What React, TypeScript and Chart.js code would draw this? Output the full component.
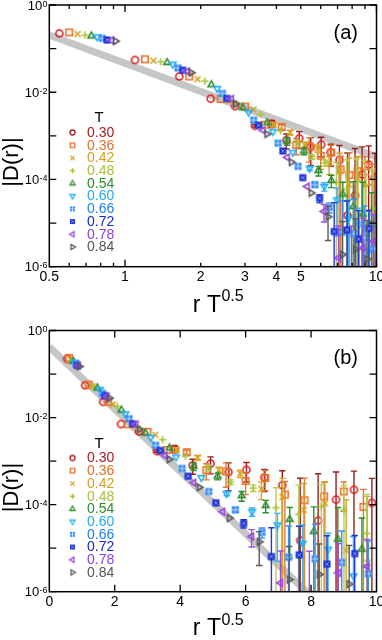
import React, { useEffect, useRef } from 'react';
import { Chart, registerables } from 'chart.js';

Chart.register(...registerables);

// ---------------- data ----------------
const T_VALUES = [0.30, 0.36, 0.42, 0.48, 0.54, 0.60, 0.66, 0.72, 0.78, 0.84];
const T_LABELS = ['0.30', '0.36', '0.42', '0.48', '0.54', '0.60', '0.66', '0.72', '0.78', '0.84'];
const R_VALUES = [1, 2, 3, 4, 5, 6, 7, 8, 9, 10, 11, 12, 13, 14, 15, 16, 17, 18];

const D_030 = [0.224, 0.055, 0.023, 0.0071, 0.0048, 0.0017, 0.0019, 0.0008, 0.00088, 0.00056, 0.00063, 0.00042, 0.00028, 1.5e-5, 4.3e-5, 1.3e-4, 2.2e-4, 1.1e-4];
const E_030 = [0, 0, 0, 0, 0, 0.0001, 0.00035, 0.0003, 0.00037, 0.00035, 0.0003, 0.00022, 0.00032, 0.00039, 0.00047, 0.00043, 0.00037, 0.00029];
const D_036 = [0.235, 0.057, 0.023, 0.0070, 0.0047, 0.0018, 0.0016, 6.2e-4, 5.8e-4, 3.5e-4, 4.1e-4, 1.7e-4, 1.26e-4, 1.55e-4, 2.0e-4, 8.9e-5];
const E_036 = [0, 0, 0, 0, 0, 0, 0.0002, 0.00025, 0.00033, 0.00018, 0.0002, 0.00017, 0.00028, 0.00017, 0.00013, 0.000135];
const D_042 = [0.216, 0.053, 0.020, 0.0062, 0.0040, 0.0018, 0.0012, 6.2e-4, 5.2e-4, 2.3e-4, 1.5e-4, 7.6e-5, 1.07e-4, 9e-6, 4.6e-6];
const E_042 = [0, 0, 0, 0, 0, 0.0002, 0.00015, 0.0001, 0.0001, 0.0001, 0.00025, 0.00023, 0.00023, 0.00012, 0.00015];
const D_048 = [0.205, 0.050, 0.018, 0.0056, 0.0031, 0.0013, 7e-4, 3.3e-4, 2.4e-4, 8.5e-5, 6e-5, 9e-5, 7.6e-5, 2.2e-5];
const E_048 = [0, 0, 0, 0, 0, 0, 0.0001, 0.00004, 0.00004, 0.00016, 0.00022, 0.0002, 0.0002, 0.00015];
const D_054 = [0.195, 0.048, 0.0148, 0.0044, 0.0020, 7.6e-4, 4.5e-4, 1.6e-4, 9.5e-5, 4.6e-5, 2.4e-5, 1.6e-5, 9.5e-6];
const E_054 = [0, 0, 0, 0, 0, 0.00015, 0.00008, 0.00004, 0.00003, 0.00004, 0.000065, 0.00007, 0.00004];
const D_060 = [0.186, 0.044, 0.0122, 0.0035, 0.00125, 4.2e-4, 1.8e-4, 6.9e-5, 3.4e-5, 1.3e-5, 9.5e-6, 2.3e-6];
const E_060 = [0, 0, 0, 0, 0, 0, 0.00002, 0.000015, 0.000029, 0.000021, 0.0000125, 0.000016];
const D_066 = [0.172, 0.036, 0.0094, 0.0023, 6.8e-4, 2.0e-4, 7.6e-5, 2.3e-5, 6.2e-6, 5.7e-6, 4.7e-6, 2.6e-6];
const E_066 = [0, 0, 0, 0, 0, 0, 0.00001, 0.000006, 0.000026, 0.00003, 0.00002, 0.000012];
const D_072 = [0.158, 0.032, 0.0072, 0.00175, 4.5e-4, 1.1e-4, 3.7e-5, 6.4e-6, 7e-6, 4.3e-6, 7.5e-6];
const E_072 = [0, 0, 0, 0, 0, 0, 0.000008, 0.000023, 0.000025, 0.000015, 0.000012];
const D_078 = [0.155, 0.030, 0.0070, 0.00135, 3.2e-4, 6.9e-5, 1.86e-5, 1.6e-6, 5e-7, 2.7e-6, 3.8e-6];
const E_078 = [0, 0, 0, 0, 0, 0, 0.000008, 0.000007, 0.000008, 0.00001, 0.000012];
const D_084 = [0.149, 0.028, 0.0054, 0.0011, 2.5e-4, 4.9e-5, 1.4e-5, 1.9e-6, 2.5e-6, 1.5e-6];
const E_084 = [0, 0, 0, 0, 0, 0, 0.00001, 0.000009, 0.00001, 0.00001];

const D_SERIES = [D_030, D_036, D_042, D_048, D_054, D_060, D_066, D_072, D_078, D_084];
const E_SERIES = [E_030, E_036, E_042, E_048, E_054, E_060, E_066, E_072, E_078, E_084];

// grey guide lines (power law in panel a, exponential in panel b)
const GUIDE_A_X = [0.5, 10];
const GUIDE_A_Y = [0.205, 3.3e-4];
const GUIDE_B_X = [0, 10];
const GUIDE_B_Y = [0.42, 2.95e-8];

// ticks
const Y_TICKS = [1, 1e-1, 1e-2, 1e-3, 1e-4, 1e-5, 1e-6];
const Y_LABEL_VALUES = [1, 1e-2, 1e-4, 1e-6];
const Y_LABEL_EXPS = ['0', '-2', '-4', '-6'];
const XA_MAJOR = [1, 10];
const XA_MINOR = [0.6, 0.7, 0.8, 0.9, 2, 3, 4, 5, 6, 7, 8, 9];
const XA_LABEL_VALUES = [0.5, 1, 2, 3, 4, 5, 10];
const XA_LABELS = ['0.5', '1', '2', '3', '4', '5', '10'];
const XB_MAJOR = [2, 4, 6, 8];
const XB_MINOR: number[] = [];
const XB_LABEL_VALUES = [0, 2, 4, 6, 8, 10];
const XB_LABELS = ['0', '2', '4', '6', '8', '10'];

// ---------------- styles ----------------
const MARKERS = ['circle', 'square', 'x', 'plus', 'triUp', 'triDown', 'sqGrid', 'sqX', 'triLeft', 'triRight'];
const MARKER_COLORS = ['#e01c1c', '#e8742a', '#d6a21c', '#a9c23a', '#2f8f2f', '#27b0f5', '#2f8cf5', '#1a2fd6', '#9c48e0', '#5a5a5a'];
const BAR_COLORS = ['#9a1f1f', '#dd7a35', '#d8a42a', '#b8cc58', '#2f8f2f', '#3ab4f5', '#3a8ef5', '#2038d8', '#9c50e0', '#5a5a5a'];
const TEXT_COLORS = ['#a51c1c', '#e0702a', '#d4a020', '#a8c040', '#2e8b2e', '#22aaf5', '#1e80f0', '#1428d0', '#9040e0', '#555555'];
const FONT = '"Liberation Sans", Arial, Helvetica, sans-serif';

function makeMarker(kind: string, color: string, r: number, lw: number): HTMLCanvasElement {
  const size = Math.ceil(r * 2 + 6);
  const c = document.createElement('canvas');
  c.width = size;
  c.height = size;
  const g = c.getContext('2d') as CanvasRenderingContext2D;
  const m = size / 2;
  g.strokeStyle = color;
  g.fillStyle = color;
  g.lineWidth = lw;
  const poly = (pts: number[][]) => {
    g.beginPath();
    pts.forEach(([x, y], i) => (i ? g.lineTo(m + x, m + y) : g.moveTo(m + x, m + y)));
    g.closePath();
    g.stroke();
  };
  const t = r * 1.15;
  switch (kind) {
    case 'circle':
      g.beginPath();
      g.arc(m, m, r, 0, Math.PI * 2);
      g.stroke();
      break;
    case 'square': {
      const h = r * 0.9;
      g.strokeRect(m - h, m - h, 2 * h, 2 * h);
      break;
    }
    case 'x': {
      const h = r * 0.85;
      g.beginPath();
      g.moveTo(m - h, m - h); g.lineTo(m + h, m + h);
      g.moveTo(m + h, m - h); g.lineTo(m - h, m + h);
      g.stroke();
      break;
    }
    case 'plus': {
      const h = r * 1.05;
      g.beginPath();
      g.moveTo(m - h, m); g.lineTo(m + h, m);
      g.moveTo(m, m - h); g.lineTo(m, m + h);
      g.stroke();
      break;
    }
    case 'triUp': poly([[0, -t], [0.87 * t, 0.5 * t], [-0.87 * t, 0.5 * t]]); break;
    case 'triDown': poly([[0, t], [0.87 * t, -0.5 * t], [-0.87 * t, -0.5 * t]]); break;
    case 'triLeft': poly([[-t, 0], [0.5 * t, 0.87 * t], [0.5 * t, -0.87 * t]]); break;
    case 'triRight': poly([[t, 0], [-0.5 * t, 0.87 * t], [-0.5 * t, -0.87 * t]]); break;
    case 'sqGrid': {
      const h = r * 0.98;
      g.fillRect(m - h, m - h, 2 * h, 2 * h);
      g.strokeStyle = 'rgba(255,255,255,0.8)';
      g.lineWidth = 0.8;
      g.beginPath();
      g.moveTo(m - h, m); g.lineTo(m + h, m);
      g.moveTo(m, m - h); g.lineTo(m, m + h);
      g.stroke();
      break;
    }
    case 'sqX': {
      const h = r * 0.98;
      g.fillRect(m - h, m - h, 2 * h, 2 * h);
      g.strokeStyle = 'rgba(200,210,255,0.75)';
      g.lineWidth = 0.8;
      const k = h * 0.55;
      g.beginPath();
      g.moveTo(m - k, m - k); g.lineTo(m + k, m + k);
      g.moveTo(m + k, m - k); g.lineTo(m - k, m + k);
      g.stroke();
      break;
    }
  }
  return c;
}

function drawDecor(chart: any, panel: string) {
  const { ctx, chartArea: a, scales } = chart;
  const xs = scales.x;
  const ys = scales.y;
  const isA = panel === 'a';
  ctx.save();
  ctx.strokeStyle = '#000';
  ctx.lineWidth = 1.3;
  ctx.beginPath();
  for (const v of Y_TICKS) {
    const py = ys.getPixelForValue(v);
    ctx.moveTo(a.left, py); ctx.lineTo(a.left + 7, py);
    ctx.moveTo(a.right, py); ctx.lineTo(a.right - 7, py);
  }
  const major = isA ? XA_MAJOR : XB_MAJOR;
  const minor = isA ? XA_MINOR : XB_MINOR;
  for (const v of major) {
    const px = xs.getPixelForValue(v);
    ctx.moveTo(px, a.bottom); ctx.lineTo(px, a.bottom - 7);
    ctx.moveTo(px, a.top); ctx.lineTo(px, a.top + 7);
  }
  for (const v of minor) {
    const px = xs.getPixelForValue(v);
    ctx.moveTo(px, a.bottom); ctx.lineTo(px, a.bottom - 4);
    ctx.moveTo(px, a.top); ctx.lineTo(px, a.top + 4);
  }
  ctx.stroke();
  ctx.lineWidth = 1.5;
  ctx.strokeRect(a.left, a.top, a.right - a.left, a.bottom - a.top);

  // y tick labels 10^n
  ctx.fillStyle = '#000';
  ctx.textBaseline = 'alphabetic';
  Y_LABEL_VALUES.forEach((v, i) => {
    const py = ys.getPixelForValue(v);
    const exp = Y_LABEL_EXPS[i];
    ctx.font = `9px ${FONT}`;
    const sw = ctx.measureText(exp).width;
    ctx.textAlign = 'right';
    ctx.fillText(exp, a.left - 1.8, py + 1.5);
    ctx.font = `13px ${FONT}`;
    ctx.fillText('10', a.left - 1.8 - sw - 0.3, py + 4.7);
  });

  // x tick labels
  ctx.font = `14px ${FONT}`;
  ctx.textAlign = 'center';
  const lv = isA ? XA_LABEL_VALUES : XB_LABEL_VALUES;
  const lt = isA ? XA_LABELS : XB_LABELS;
  lv.forEach((v, i) => {
    ctx.fillText(lt[i], xs.getPixelForValue(v), a.bottom + 14);
  });

  // x title: r T^0.5
  ctx.font = `23px ${FONT}`;
  const main = 'r T';
  const mw = ctx.measureText(main).width;
  ctx.font = `16px ${FONT}`;
  const sup = '0.5';
  const spw = ctx.measureText(sup).width;
  const x0 = 218 - (mw + spw) / 2;
  const base = a.bottom + (isA ? 45 : 43.5);
  ctx.textAlign = 'left';
  ctx.font = `23px ${FONT}`;
  ctx.fillText(main, x0, base);
  ctx.font = `16px ${FONT}`;
  ctx.fillText(sup, x0 + mw + 0.5, base - 10.5);

  // y title
  ctx.save();
  ctx.translate(12, a.top + 157);
  ctx.rotate(-Math.PI / 2);
  ctx.font = `22px ${FONT}`;
  ctx.textAlign = 'center';
  ctx.textBaseline = 'middle';
  ctx.fillText('|D(r)|', 0, 0);
  ctx.restore();

  // panel label
  ctx.font = `20px ${FONT}`;
  ctx.textAlign = 'center';
  ctx.textBaseline = 'alphabetic';
  ctx.fillText(isA ? '(a)' : '(b)', 345.8, a.top + 33.5);

  // legend
  ctx.font = `15px ${FONT}`;
  ctx.textBaseline = 'middle';
  ctx.textAlign = 'center';
  ctx.fillStyle = '#000';
  ctx.fillText('T', 99, a.top + 113);
  ctx.font = `14px ${FONT}`;
  ctx.textAlign = 'left';
  const legendMarkers = chart.$legendMarkers as HTMLCanvasElement[];
  T_LABELS.forEach((lab, i) => {
    const y = a.top + 127.5 + 12.72 * i;
    const mk = legendMarkers[i];
    ctx.drawImage(mk, 72.5 - mk.width / 2, y - mk.height / 2);
    ctx.fillStyle = TEXT_COLORS[i];
    ctx.fillText(lab, 87, y + 0.5);
  });
  ctx.restore();
}

const errorBarPlugin = {
  id: 'errBars',
  beforeDatasetDraw(chart: any, args: any) {
    const ds: any = chart.data.datasets[args.index];
    if (!ds.errs) return;
    const { ctx, chartArea: a } = chart;
    const xs = chart.scales.x;
    const ys = chart.scales.y;
    ctx.save();
    ctx.beginPath();
    ctx.rect(a.left, a.top, a.right - a.left, a.bottom - a.top);
    ctx.clip();
    ctx.strokeStyle = ds.barColor;
    ctx.lineWidth = 1.4;
    ds.data.forEach((p: any, i: number) => {
      const e = ds.errs[i];
      if (!e) return;
      const px = xs.getPixelForValue(p.x);
      const yTop = ys.getPixelForValue(p.y + e);
      const lowOk = p.y - e > 0;
      const yBot = lowOk ? ys.getPixelForValue(p.y - e) : a.bottom + 10;
      ctx.beginPath();
      ctx.moveTo(px, yTop); ctx.lineTo(px, yBot);
      ctx.moveTo(px - 3.2, yTop); ctx.lineTo(px + 3.2, yTop);
      if (lowOk) { ctx.moveTo(px - 3.2, yBot); ctx.lineTo(px + 3.2, yBot); }
      ctx.stroke();
    });
    ctx.restore();
  },
};

function buildConfig(panel: string): any {
  const isA = panel === 'a';
  const dataMarkers = MARKERS.map((k, i) =>
    makeMarker(k, MARKER_COLORS[i], k.startsWith('tri') ? 3.3 : k.startsWith('sq') ? 3.6 : 3.5, 1.6));
  const legendMarkers = MARKERS.map((k, i) =>
    makeMarker(k, i === 0 ? TEXT_COLORS[0] : MARKER_COLORS[i], k.startsWith('tri') ? 2.6 : 2.5, 1.3));
  const gx = isA ? GUIDE_A_X : GUIDE_B_X;
  const gy = isA ? GUIDE_A_Y : GUIDE_B_Y;
  const guide = {
    label: 'guide',
    data: gx.map((x, i) => ({ x, y: gy[i] })),
    showLine: true,
    borderColor: '#c6c6c6',
    borderWidth: 7,
    pointRadius: 0,
    clip: 0,
    order: 100,
  };
  const series = T_VALUES.map((t, k) => {
    const s = Math.sqrt(t);
    return {
      label: T_LABELS[k],
      data: D_SERIES[k].map((y, i) => ({ x: R_VALUES[i] * s, y })),
      errs: E_SERIES[k],
      barColor: BAR_COLORS[k],
      pointStyle: dataMarkers[k],
      pointRadius: 3,
      showLine: false,
      clip: 0,
      order: 50 - k,
    };
  });
  const decor = {
    id: 'decor' + panel,
    afterDraw(chart: any) {
      chart.$legendMarkers = legendMarkers;
      drawDecor(chart, panel);
    },
  };
  return {
    type: 'scatter',
    data: { datasets: [guide, ...series] },
    options: {
      animation: false,
      responsive: false,
      devicePixelRatio: 1,
      events: [],
      layout: {
        padding: isA
          ? { left: 49.3, right: 5.5, top: 5, bottom: 53.3 }
          : { left: 49.3, right: 5.5, top: 10.5, bottom: 48.3 },
      },
      plugins: { legend: { display: false }, tooltip: { enabled: false } },
      scales: {
        x: isA
          ? { type: 'logarithmic', min: 0.5, max: 10, display: false }
          : { type: 'linear', min: 0, max: 10, display: false },
        y: { type: 'logarithmic', min: 1e-6, max: 1, display: false },
      },
    },
    plugins: [errorBarPlugin, decor],
  };
}

export default function App() {
  const refA = useRef<HTMLCanvasElement>(null);
  const refB = useRef<HTMLCanvasElement>(null);
  useEffect(() => {
    const ca = new Chart(refA.current as HTMLCanvasElement, buildConfig('a'));
    const cb = new Chart(refB.current as HTMLCanvasElement, buildConfig('b'));
    return () => {
      ca.destroy();
      cb.destroy();
    };
  }, []);
  return (
    <div style={{ position: 'absolute', left: 0, top: 0, width: 382, height: 640, background: '#fff' }}>
      <canvas ref={refA} width={382} height={320} style={{ display: 'block', width: 382, height: 320 }} />
      <canvas ref={refB} width={382} height={320} style={{ display: 'block', width: 382, height: 320 }} />
    </div>
  );
}
